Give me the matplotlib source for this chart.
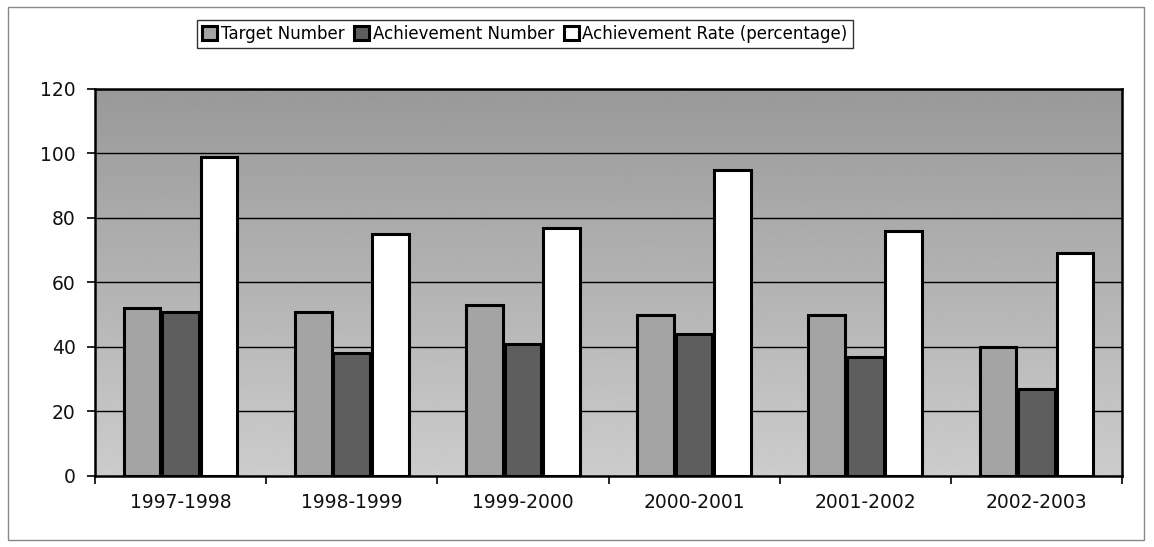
import matplotlib.pyplot as plt
import numpy as np
from matplotlib.patches import Rectangle

plt.rcParams['font.family'] = ['DejaVu Sans']

years = ['1997-1998', '1998-1999', '1999-2000', '2000-2001', '2001-2002', '2002-2003']
target = [52, 51, 53, 50, 50, 40]
achieved = [51, 38, 41, 44, 37, 27]
rate = [99, 75, 77, 95, 76, 69]

fig = plt.figure(figsize=(11.54, 5.47), dpi=100)
ax = fig.add_axes([0.0823, 0.1298, 0.890, 0.7075])

x = np.arange(len(years))
w = 0.215
ax.set_xlim(-0.5, len(years) - 0.5)
ax.set_ylim(0, 120)

# grey background, darker at the top
grad = np.linspace(0.80, 0.60, 200).reshape(-1, 1)
ax.imshow(grad, extent=(-0.5, len(years) - 0.5, 0, 120), origin='lower',
          aspect='auto', cmap='gray', vmin=0, vmax=1, zorder=0)

for yv in range(20, 120, 20):
    ax.axhline(yv, color='black', lw=1.0, zorder=1)

ax.bar(x - 0.225, target, w, color='#a4a4a4', edgecolor='black', lw=2.2,
       label='Target Number', zorder=2)
ax.bar(x, achieved, w, color='#5e5e5e', edgecolor='black', lw=2.2,
       label='Achievement Number', zorder=2)
ax.bar(x + 0.225, rate, w, color='white', edgecolor='black', lw=2.2,
       label='Achievement Rate (percentage)', zorder=2)

ax.set_yticks(range(0, 121, 20))
ax.set_xticks(x)
ax.set_xticklabels(years)
ax.set_xticks(np.arange(-0.5, len(years), 1), minor=True)
ax.tick_params(axis='x', which='major', length=0, pad=12, labelsize=13.5)
ax.tick_params(axis='x', which='minor', length=6, direction='out', width=1.2)
ax.tick_params(axis='y', length=6, width=1.2, pad=8, labelsize=13.5)
for lab in ax.get_xticklabels() + ax.get_yticklabels():
    lab.set_color('#111111')
for s in ax.spines.values():
    s.set_linewidth(1.8)
    s.set_color('black')

fig.legend(loc='center', bbox_to_anchor=(0.455, 0.938), ncol=3, frameon=True,
           fancybox=False, edgecolor='black', handlelength=0.9,
           handleheight=0.9, handletextpad=0.2, columnspacing=0.6,
           borderpad=0.3, prop={'size': 12})

fig.patches.append(Rectangle((0.007, 0.012), 0.984, 0.975, transform=fig.transFigure,
                             fill=False, edgecolor='#888888', lw=1.0))

fig.savefig('out.png', dpi=100)
